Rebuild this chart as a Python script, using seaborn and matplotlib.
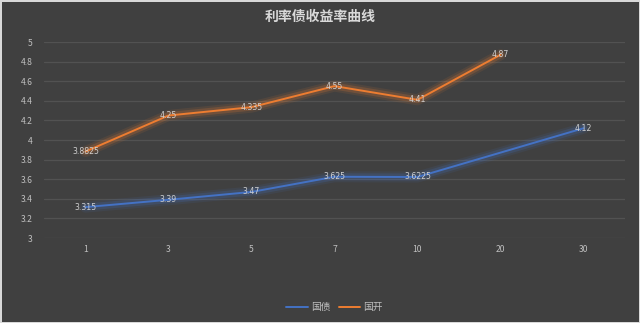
import numpy as np
import pandas as pd
import matplotlib
matplotlib.use("Agg")
import matplotlib.pyplot as plt
import matplotlib.patheffects as pe
import seaborn as sns

terms = ["1", "3", "5", "7", "10", "20", "30"]
guozhai = [3.315, 3.39, 3.47, 3.625, 3.6225, np.nan, 4.12]
guokai = [3.8825, 4.25, 4.335, 4.55, 4.41, 4.87, np.nan]
series_names = ["国债", "国开"]
colors = ["#4472C4", "#ED7D31"]
title = "利率债收益率曲线"
yticks = [3, 3.2, 3.4, 3.6, 3.8, 4, 4.2, 4.4, 4.6, 4.8, 5]
ytick_labels = ["3", "3.2", "3.4", "3.6", "3.8", "4", "4.2", "4.4", "4.6", "4.8", "5"]

sns.set_theme(style="dark")
plt.rcParams["font.family"] = ["Noto Sans CJK SC", "DejaVu Sans"]
bg = "#404040"
txt = "#BFBFBF"

fig = plt.figure(figsize=(6.4, 3.23), dpi=100, facecolor=bg)
fig.patch.set_edgecolor("#D9D9D9")
fig.patch.set_linewidth(2)
ax = fig.add_axes([44/640, 1-238/323, (625-44)/640, (238-42)/323])
ax.set_facecolor(bg)

df = pd.DataFrame({"term": terms * 2,
                   "pos": list(range(len(terms))) * 2,
                   "value": guozhai + guokai,
                   "series": [series_names[0]] * len(terms) + [series_names[1]] * len(terms)})
df = df.dropna()

sns.lineplot(data=df, x="pos", y="value", hue="series", palette=colors,
             linewidth=1.4, ax=ax, legend=True)

for line, c in zip(ax.get_lines(), colors):
    line.set_path_effects([
        pe.Stroke(linewidth=8, foreground=c, alpha=0.10),
        pe.Stroke(linewidth=5, foreground=c, alpha=0.2),
        pe.Normal()])

for _, r in df.iterrows():
    v = r["value"]
    s = ("%.4f" % v).rstrip("0").rstrip(".")
    ax.text(r["pos"], v, s, ha="center", va="center", fontsize=5.6,
            color="#D0D0D0", family=["DejaVu Sans"])

ax.set_xlim(-0.5, len(terms) - 0.5)
ax.set_ylim(3, 5)
ax.set_xticks(range(len(terms)))
ax.set_xticklabels(terms)
ax.set_yticks(yticks)
ax.set_yticklabels(ytick_labels)
ax.tick_params(axis="both", colors=txt, labelsize=6.2, length=0)
ax.tick_params(axis="y", pad=8)
ax.tick_params(axis="x", pad=5)
ax.grid(axis="y", color="#525252", linewidth=0.9)
ax.grid(axis="x", visible=False)
for sp in ax.spines.values():
    sp.set_visible(False)
ax.set_xlabel("")
ax.set_ylabel("")

fig.text(0.5, 1-17/323, title, ha="center", va="center", fontsize=10,
         fontweight="bold", color="#D9D9D9")

leg = ax.legend(loc="center", bbox_to_anchor=(0.5, (238-307)/(238-42)),
                ncol=2, frameon=False, fontsize=7, handlelength=2.2,
                columnspacing=0.9, handletextpad=0.3)
for t in leg.get_texts():
    t.set_color(txt)

fig.savefig("out.png", dpi=100, facecolor=bg)
